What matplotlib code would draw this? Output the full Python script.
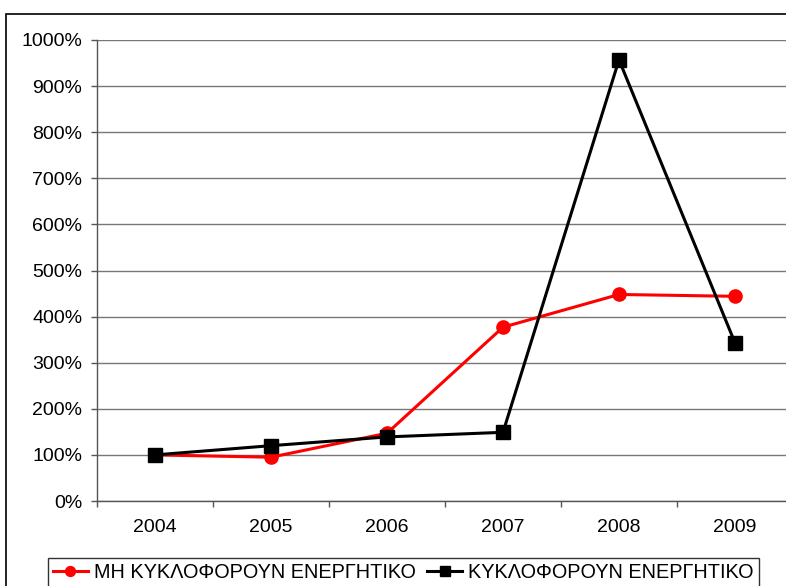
# Percentage line chart, two series

import matplotlib
matplotlib.use('Agg')
import matplotlib.pyplot as plt
from matplotlib.patches import Rectangle
from matplotlib.ticker import FuncFormatter

# Data
years = ['2004', '2005', '2006', '2007', '2008', '2009']
mi_kykloforoun = [100, 95, 147, 377, 448, 444]
kykloforoun = [100, 120, 139, 149, 957, 343]
label_red = 'ΜΗ ΚΥΚΛΟΦΟΡΟΥΝ ΕΝΕΡΓΗΤΙΚΟ'
label_black = 'ΚΥΚΛΟΦΟΡΟΥΝ ΕΝΕΡΓΗΤΙΚΟ'

plt.rcParams['font.family'] = ['Liberation Sans', 'DejaVu Sans']

fig = plt.figure(figsize=(7.86, 5.86), dpi=100)
ax = fig.add_axes([97/786, 1 - 501/586, 696/786, 461/586])

x = list(range(len(years)))
ax.plot(x, mi_kykloforoun, color='#ff0000', lw=2.2, marker='o', ms=9.5,
        label=label_red, zorder=3)
ax.plot(x, kykloforoun, color='black', lw=2.2, marker='s', ms=9.5,
        label=label_black, zorder=4)

ax.set_xlim(-0.5, 5.5)
ax.set_ylim(0, 1000)
ax.set_yticks(range(0, 1001, 100))
ax.yaxis.set_major_formatter(FuncFormatter(lambda v, p: '%d%%' % v))
ax.set_xticks(x)
ax.set_xticklabels(years)
ax.set_xticks([i + 0.5 for i in range(-1, 6)], minor=True)
ax.tick_params(axis='x', which='major', length=0, pad=13, labelsize=14)
ax.tick_params(axis='x', which='minor', length=4, width=1, color='#555555')
ax.tick_params(axis='y', length=4.5, width=1, color='#555555', pad=6, labelsize=14)
ax.grid(axis='y', color='#777777', lw=1)
ax.set_axisbelow(True)
for s in ['top', 'right']:
    ax.spines[s].set_visible(False)
for s in ['left', 'bottom']:
    ax.spines[s].set_color('#555555')
    ax.spines[s].set_linewidth(1)

# outer chart frame
fig.patches.append(Rectangle((6/786, -0.05), 1.0, 1 - 14/586 + 0.05,
                             transform=fig.transFigure, fill=False,
                             edgecolor='black', lw=1.2))

leg = fig.legend(loc='upper left', bbox_to_anchor=(48/786, 1 - 558/586),
                 ncol=2, fontsize=14.3, frameon=True, fancybox=False,
                 edgecolor='black', handlelength=1.75, handletextpad=0.3,
                 columnspacing=0.6, borderpad=0.25, borderaxespad=0,
                 markerscale=0.75)
leg.get_frame().set_linewidth(1)

fig.savefig('out.png', dpi=100)
